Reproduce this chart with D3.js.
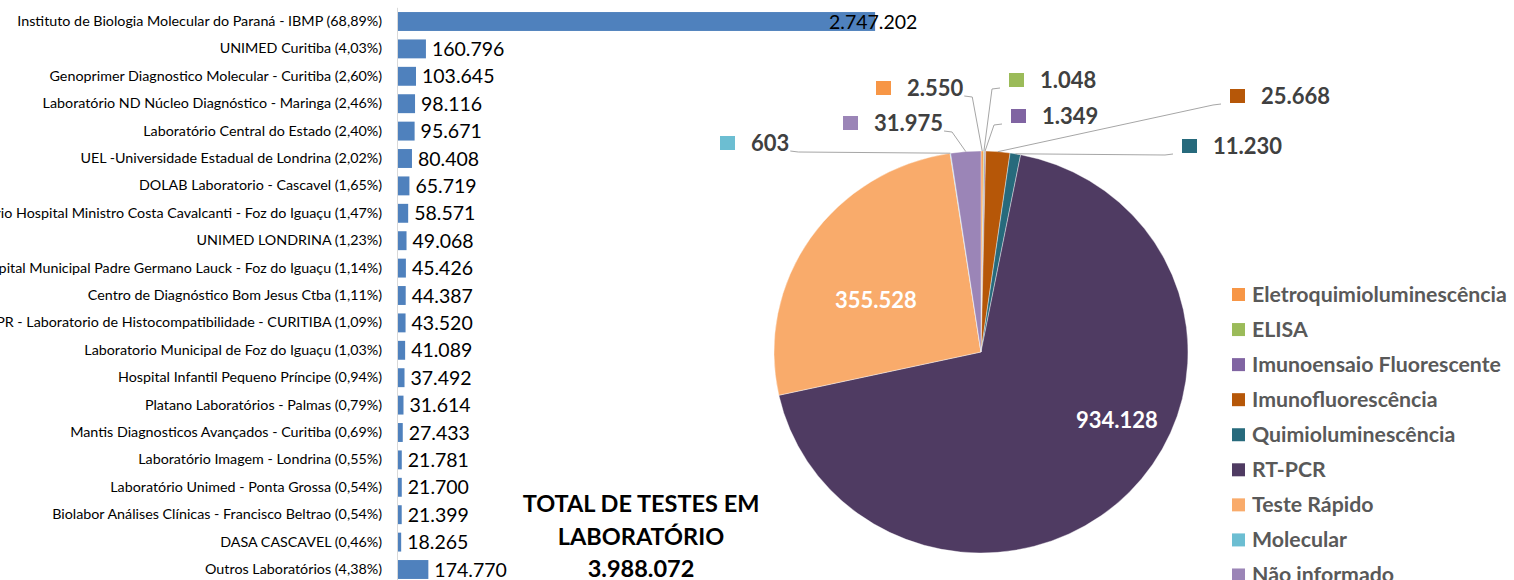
<!DOCTYPE html>
<html>
<head>
<meta charset="utf-8">
<script src="https://d3js.org/d3.v7.min.js"></script>
<style>
  body { margin: 0; background: #fff; }
  svg { display: block; font-family: Lato, "Open Sans", sans-serif; }
</style>
</head>
<body>
<svg id="chart"></svg>
<script>
// laboratórios (barras)
var labs = [
  "Instituto de Biologia Molecular do Paraná - IBMP (68,89%)",
  "UNIMED Curitiba (4,03%)",
  "Genoprimer Diagnostico Molecular - Curitiba (2,60%)",
  "Laboratório ND Núcleo Diagnóstico - Maringa (2,46%)",
  "Laboratório Central do Estado (2,40%)",
  "UEL -Universidade Estadual de Londrina (2,02%)",
  "DOLAB Laboratorio - Cascavel (1,65%)",
  "Laboratório Hospital Ministro Costa Cavalcanti - Foz do Iguaçu (1,47%)",
  "UNIMED LONDRINA (1,23%)",
  "Hospital Municipal Padre Germano Lauck - Foz do Iguaçu (1,14%)",
  "Centro de Diagnóstico Bom Jesus Ctba (1,11%)",
  "UFPR - Laboratorio de Histocompatibilidade - CURITIBA (1,09%)",
  "Laboratorio Municipal de Foz do Iguaçu   (1,03%)",
  "Hospital Infantil Pequeno Príncipe (0,94%)",
  "Platano Laboratórios - Palmas (0,79%)",
  "Mantis Diagnosticos Avançados - Curitiba (0,69%)",
  "Laboratório Imagem - Londrina (0,55%)",
  "Laboratório Unimed - Ponta Grossa (0,54%)",
  "Biolabor Análises Clínicas - Francisco Beltrao (0,54%)",
  "DASA CASCAVEL (0,46%)",
  "Outros Laboratórios (4,38%)"
];
var labValues = [2747202, 160796, 103645, 98116, 95671, 80408, 65719, 58571, 49068,
  45426, 44387, 43520, 41089, 37492, 31614, 27433, 21781, 21700, 21399, 18265, 174770];

// metodologias (pizza)
var methods = ["Eletroquimioluminescência", "ELISA", "Imunoensaio Fluorescente",
  "Imunofluorescência", "Quimioluminescência", "RT-PCR", "Teste Rápido",
  "Molecular", "Não informado"];
var methodValues = [2550, 1048, 1349, 25668, 11230, 934128, 355528, 603, 31975];
var methodColors = ["#f79646", "#9bbb59", "#8064a2", "#b65708", "#276a7c",
  "#4f3b62", "#f9ab6b", "#6cbed2", "#9b85b7"];

var totalTitle = ["TOTAL DE TESTES EM", "LABORATÓRIO", "3.988.072"];

// where Excel put each pie label: [x of square (or centre), baseline y, inside?]
var pieLabelPos = {
  "Eletroquimioluminescência": [876, 96],
  "ELISA": [1009, 88],
  "Imunoensaio Fluorescente": [1011, 124],
  "Imunofluorescência": [1230, 104],
  "Quimioluminescência": [1182, 154],
  "RT-PCR": [1117, 428, true],
  "Teste Rápido": [876, 308, true],
  "Molecular": [720, 151],
  "Não informado": [843, 131]
};

var fmt = d3.formatLocale({decimal: ",", thousands: ".", grouping: [3], currency: ["", ""]}).format(",d");

var W = 1514, H = 580;
var svg = d3.select("#chart").attr("width", W).attr("height", H);
svg.append("rect").attr("width", W).attr("height", H).attr("fill", "#fff");

// ---------- bar chart ----------
var x = d3.scaleLinear().domain([0, 3000000]).range([398, 919]);
var y = d3.scaleBand().domain(labs).range([7.8, 583.2])
  .paddingInner(0.31).paddingOuter(0.155);

svg.append("g").selectAll("rect")
  .data(labs)
  .enter().append("rect")
  .attr("x", x(0))
  .attr("y", d => y(d))
  .attr("width", (d, i) => x(labValues[i]) - x(0))
  .attr("height", y.bandwidth())
  .attr("fill", "#4f81bd");

// axis line + category labels (long ones run off the left edge, as in the original)
var yAxis = svg.append("g")
  .attr("transform", "translate(" + (x(0) - 1) + ",0)")
  .call(d3.axisLeft(y).tickSize(0).tickPadding(15));
yAxis.select(".domain").attr("stroke", "#d9d9d9").attr("d", "M0.5,7.8V583.2");
yAxis.selectAll("text")
  .attr("font-family", "Lato, sans-serif")
  .attr("font-size", "14.3px")
  .attr("fill", "#000");

// value labels
svg.append("g").selectAll("text")
  .data(labs)
  .enter().append("text")
  .attr("x", (d, i) => Math.min(x(labValues[i]) + 6, x.range()[1] - 90))
  .attr("y", d => y(d) + y.bandwidth() / 2)
  .attr("dy", "0.36em")
  .attr("font-size", "19.5px")
  .attr("fill", "#000")
  .text((d, i) => fmt(labValues[i]));

// total text
svg.append("g").selectAll("text")
  .data(totalTitle)
  .enter().append("text")
  .attr("x", 641)
  .attr("y", (d, i) => 512 + i * 32.5)
  .attr("text-anchor", "middle")
  .attr("font-weight", "bold")
  .attr("font-size", "23.5px")
  .attr("fill", "#000")
  .text(d => d);

// ---------- pie ----------
var cx = 981, cy = 352, rx = 207, ry = 201;
var pie = d3.pie().sort(null).value(d => d.v);
var arcs = pie(methods.map((m, i) => ({m: m, v: methodValues[i], c: methodColors[i]})));
var arc = d3.arc().innerRadius(0).outerRadius(rx);

svg.append("g")
  .attr("transform", "translate(" + cx + "," + cy + ") scale(1," + (ry / rx) + ")")
  .selectAll("path")
  .data(arcs)
  .enter().append("path")
  .attr("d", arc)
  .attr("fill", d => d.data.c)
  .attr("stroke", "#fff")
  .attr("stroke-width", 0.4);

var lbl = svg.append("g");
arcs.forEach(function(a) {
  var p = pieLabelPos[a.data.m];
  if (p[2]) {
    lbl.append("text")
      .attr("x", p[0]).attr("y", p[1])
      .attr("text-anchor", "middle")
      .attr("font-weight", "bold").attr("font-size", "22px")
      .attr("fill", "#fff")
      .text(fmt(a.data.v));
    return;
  }
  var mid = (a.startAngle + a.endAngle) / 2;
  var ex = cx + rx * Math.sin(mid), ey = cy - ry * Math.cos(mid);
  lbl.append("rect")
    .attr("x", p[0]).attr("y", p[1] - 15)
    .attr("width", 15).attr("height", 14)
    .attr("fill", a.data.c);
  var t = lbl.append("text")
    .attr("x", p[0] + 31).attr("y", p[1])
    .attr("font-weight", "bold").attr("font-size", "22px")
    .attr("fill", "#404040")
    .text(fmt(a.data.v));
  var sx, kx;
  if (p[0] < cx - 20) {
    sx = p[0] + 31 + t.node().getComputedTextLength() + 1;
    kx = sx + 8;
  } else {
    sx = p[0] - 9;
    kx = sx - 8;
  }
  lbl.append("path")
    .attr("d", "M" + sx + "," + p[1] + "L" + kx + "," + (p[1] + 1) + "L" + ex + "," + ey)
    .attr("fill", "none")
    .attr("stroke", "#a6a6a6")
    .attr("stroke-width", 1);
});

// legend
var leg = svg.append("g").selectAll("g")
  .data(methods)
  .enter().append("g")
  .attr("transform", (d, i) => "translate(1232," + (288 + i * 35.06) + ")");
leg.append("rect").attr("width", 13).attr("height", 13)
  .attr("fill", (d, i) => methodColors[i]);
leg.append("text")
  .attr("x", 20).attr("y", 13.5)
  .attr("font-weight", "bold").attr("font-size", "21.3px")
  .attr("fill", "#595959")
  .text(d => d);
</script>
</body>
</html>
